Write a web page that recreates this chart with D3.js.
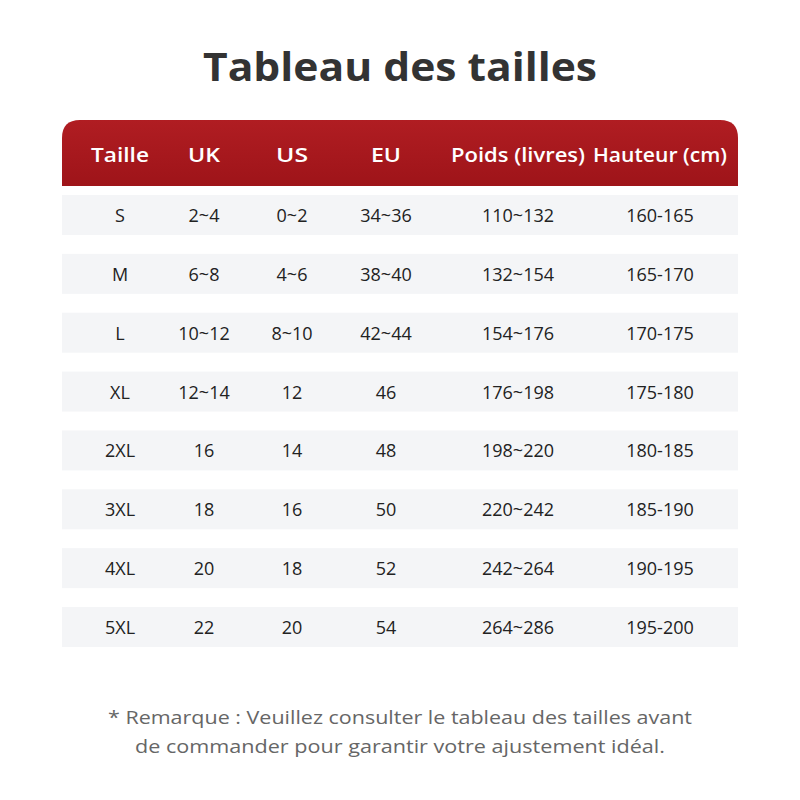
<!DOCTYPE html>
<html><head><meta charset="utf-8">
<script src="https://cdn.jsdelivr.net/npm/d3@7"></script>
<style>body{margin:0;background:#fff}</style></head>
<body><svg id="c" width="800" height="800"></svg>
<script>
const headers = ["Taille","UK","US","EU","Poids (livres)","Hauteur (cm)"];
const sizes = ["S","M","L","XL","2XL","3XL","4XL","5XL"];
const uk = ["2~4","6~8","10~12","12~14","16","18","20","22"];
const us = ["0~2","4~6","8~10","12","14","16","18","20"];
const eu = ["34~36","38~40","42~44","46","48","50","52","54"];
const poids = ["110~132","132~154","154~176","176~198","198~220","220~242","242~264","264~286"];
const hauteur = ["160-165","165-170","170-175","175-180","180-185","185-190","190-195","195-200"];
const columns = [sizes, uk, us, eu, poids, hauteur];
const colX = [120,204,292,386,518,660];

const svg = d3.select("#c");
const font = "'Open Sans', sans-serif";
svg.append("text").attr("x",400).attr("y",81).attr("text-anchor","middle")
  .attr("font-family",font).attr("font-weight",700).attr("font-size",40).attr("fill","#333")
  .attr("textLength",394).attr("lengthAdjust","spacingAndGlyphs")
  .text("Tableau des tailles");

const defs = svg.append("defs");
const g = defs.append("linearGradient").attr("id","hg").attr("x1",0).attr("y1",0).attr("x2",0).attr("y2",1);
g.append("stop").attr("offset","0%").attr("stop-color","#b01d22");
g.append("stop").attr("offset","100%").attr("stop-color","#9e1419");

const L=62,R=738,T=120,B=186,r=18;
svg.append("path").attr("fill","url(#hg)")
  .attr("d",`M${L},${B}V${T+r}Q${L},${T} ${L+r},${T}H${R-r}Q${R},${T} ${R},${T+r}V${B}Z`);
const hw = [58,32,32,30,134,134];
svg.selectAll("text.h").data(headers).join("text").attr("class","h")
  .attr("x",(d,i)=>colX[i]).attr("y",162).attr("text-anchor","middle")
  .attr("font-family",font).attr("font-weight",600).attr("font-size",20).attr("fill","#fff")
  .attr("textLength",(d,i)=>hw[i]).attr("lengthAdjust","spacingAndGlyphs").text(d=>d);

const y = d3.scalePoint().domain(sizes).range([215,627]);
svg.selectAll("rect.row").data(sizes).join("rect").attr("class","row")
  .attr("x",L).attr("width",R-L).attr("y",d=>y(d)-20).attr("height",40).attr("fill","#f4f5f7");
columns.forEach((col,ci)=>{
  svg.selectAll("text.c"+ci).data(col).join("text").attr("class","c"+ci)
    .attr("x",colX[ci]).attr("y",(d,i)=>y(sizes[i])+7).attr("text-anchor","middle")
    .attr("font-family",font).attr("font-size",18).attr("fill","#222").text(d=>d);
});
const foot = ["* Remarque : Veuillez consulter le tableau des tailles avant","de commander pour garantir votre ajustement idéal."];
const fw = [584,530];
svg.selectAll("text.f").data(foot).join("text").attr("class","f")
  .attr("x",400).attr("y",(d,i)=>724+i*29).attr("text-anchor","middle")
  .attr("font-family",font).attr("font-size",19).attr("fill","#666")
  .attr("textLength",(d,i)=>fw[i]).attr("lengthAdjust","spacingAndGlyphs").text(d=>d);
</script></body></html>
